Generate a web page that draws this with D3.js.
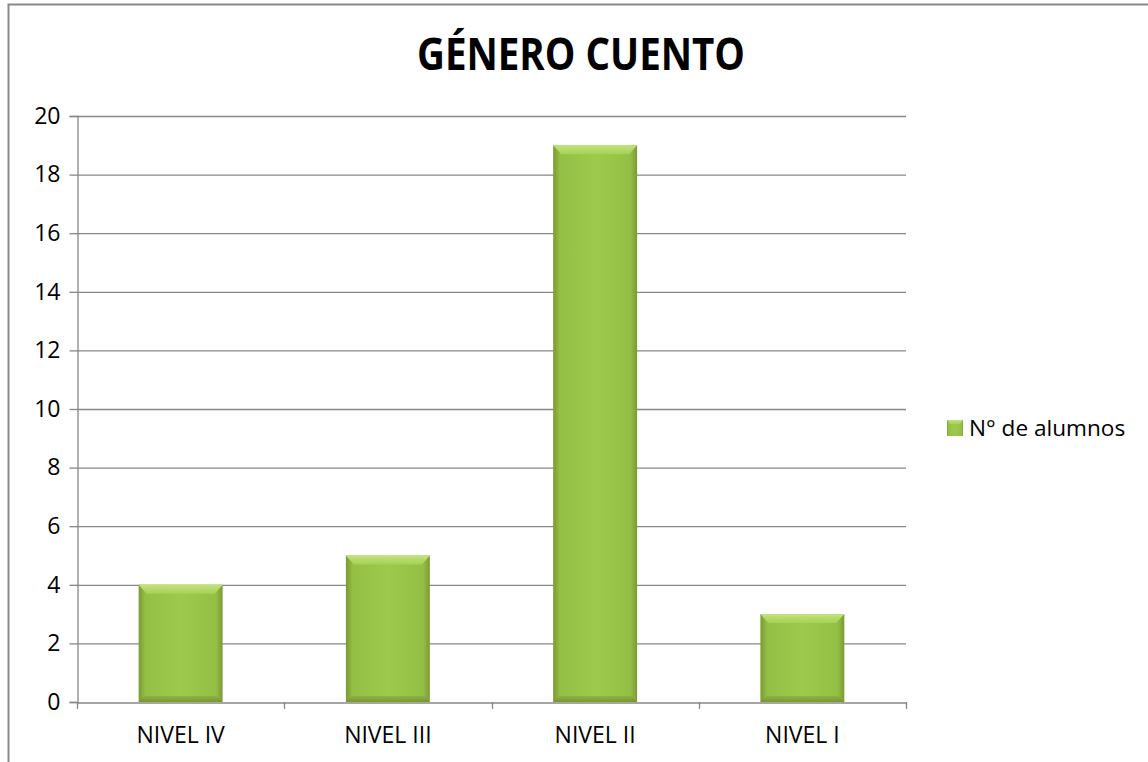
<!DOCTYPE html>
<html><head><meta charset="utf-8">
<script src="https://cdn.jsdelivr.net/npm/d3@7"></script>
<style>body{margin:0;background:#fff;} svg{display:block;}</style>
</head><body>
<svg id="c" width="1148" height="762"></svg>
<script>
const categories = ["NIVEL IV", "NIVEL III", "NIVEL II", "NIVEL I"];
const values = [4, 5, 19, 3];
const yTicks = [0, 2, 4, 6, 8, 10, 12, 14, 16, 18, 20];
const seriesName = "N° de alumnos";
const title = "GÉNERO CUENTO";

const svg = d3.select("#c");
const font = "'Open Sans', 'Liberation Sans', Arial, sans-serif";
const titleFont = "'Open Sans', Lato, sans-serif";
const defs = svg.append("defs");
const gh = defs.append("linearGradient").attr("id","gh").attr("x1","0").attr("x2","1").attr("y1","0").attr("y2","0");
gh.append("stop").attr("offset","0").attr("stop-color","#7a9a33");
gh.append("stop").attr("offset","0.08").attr("stop-color","#94bf45");
gh.append("stop").attr("offset","0.5").attr("stop-color","#9dca4c");
gh.append("stop").attr("offset","0.92").attr("stop-color","#94bf45");
gh.append("stop").attr("offset","1").attr("stop-color","#7a9a33");
const gt = defs.append("linearGradient").attr("id","gt").attr("x1","0").attr("x2","0").attr("y1","0").attr("y2","1");
gt.append("stop").attr("offset","0").attr("stop-color","#c2e37c");
gt.append("stop").attr("offset","1").attr("stop-color","#a5d155");
const gb = defs.append("linearGradient").attr("id","gb").attr("x1","0").attr("x2","0").attr("y1","0").attr("y2","1");
gb.append("stop").attr("offset","0").attr("stop-color","#8aad3c");
gb.append("stop").attr("offset","1").attr("stop-color","#6f8e2c");

// chart border (left + top)
svg.append("path").attr("d","M8.5,762 L8.5,4.5 L1148,4.5").attr("fill","none").attr("stroke","#898989").attr("stroke-width",2);

const m = {l:77, r:906, t:116, b:702};
const x = d3.scaleBand().domain(categories).range([m.l, m.r]).paddingInner(0.595).paddingOuter(0.2975);
const y = d3.scaleLinear().domain([0,20]).range([m.b, m.t]);

// gridlines
svg.append("g").selectAll("line").data(yTicks.filter(d=>d>0)).join("line")
  .attr("x1",m.l).attr("x2",m.r).attr("y1",d=>y(d)+0.5).attr("y2",d=>y(d)+0.5)
  .attr("stroke","#878787").attr("stroke-width",1.3);

// y axis
const ya = svg.append("g").attr("transform",`translate(${m.l+0.5},0)`)
  .call(d3.axisLeft(y).tickValues(yTicks).tickSize(8).tickPadding(9));
ya.select(".domain").attr("stroke","#878787").attr("stroke-width",1.3);
ya.selectAll(".tick line").attr("stroke","#878787").attr("stroke-width",1.3);
ya.selectAll("text").attr("font-family",font).attr("font-size",23).attr("fill","#000");

// bars
const bw = x.bandwidth();
const bars = svg.append("g").selectAll("g").data(values).join("g");
bars.append("rect").attr("x",(d,i)=>x(categories[i])).attr("width",bw)
  .attr("y",d=>y(d)).attr("height",d=>m.b-y(d)).attr("fill","url(#gh)");
bars.append("path").attr("d",(d,i)=>{
    const x0=x(categories[i]), y0=y(d);
    return `M${x0},${y0} L${x0+bw},${y0} L${x0+bw-8},${y0+9} L${x0+8},${y0+9} Z`;
  }).attr("fill","url(#gt)");
bars.append("path").attr("d",(d,i)=>{
    const x0=x(categories[i]);
    return `M${x0},${m.b} L${x0+bw},${m.b} L${x0+bw-6},${m.b-6} L${x0+6},${m.b-6} Z`;
  }).attr("fill","url(#gb)").attr("opacity",0.75);

// x axis
const xa = svg.append("g").attr("transform",`translate(0,${m.b+0.5})`)
  .call(d3.axisBottom(x).tickSize(0).tickPadding(24));
xa.select(".domain").attr("stroke","#878787").attr("stroke-width",1.3);
xa.selectAll("text").attr("font-family",font).attr("font-size",23).attr("fill","#000");
const bounds = d3.range(categories.length+1).map(i=>m.l + i*(m.r-m.l)/categories.length);
svg.append("g").selectAll("line").data(bounds).join("line")
  .attr("x1",d=>Math.round(d)+0.5).attr("x2",d=>Math.round(d)+0.5).attr("y1",m.b).attr("y2",m.b+7)
  .attr("stroke","#878787").attr("stroke-width",1.3);

// title
svg.append("text").attr("x",581).attr("y",70).attr("text-anchor","middle")
  .attr("font-family",titleFont).attr("font-weight","bold").attr("font-size",45)
  .attr("textLength",328).attr("lengthAdjust","spacingAndGlyphs")
  .attr("fill","#000").text(title);

// legend
svg.append("rect").attr("x",947).attr("y",420).attr("width",16).attr("height",16).attr("fill","url(#gh)");
svg.append("path").attr("d","M947,420 L963,420 L960,424 L950,424 Z").attr("fill","url(#gt)");
svg.append("text").attr("x",969).attr("y",436).attr("font-family",font).attr("font-size",22.6).attr("fill","#000").text(seriesName);
</script>
</body></html>
